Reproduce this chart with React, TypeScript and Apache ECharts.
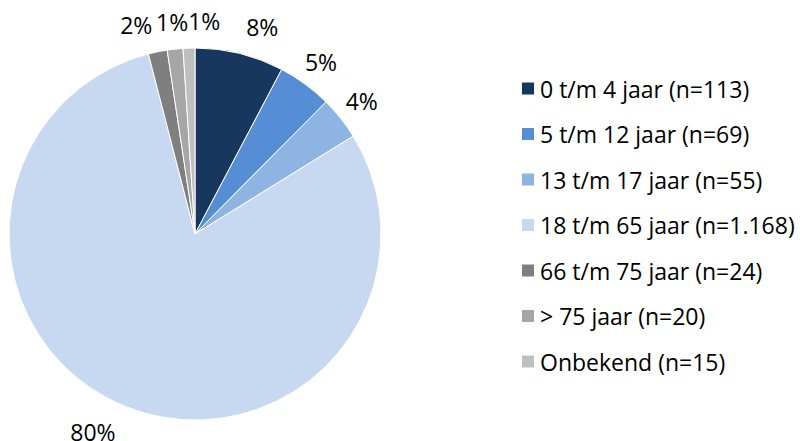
import React, { useEffect, useRef } from "react";
import * as echarts from "echarts";

const categories = [
  "0 t/m 4 jaar (n=113)",
  "5 t/m 12 jaar (n=69)",
  "13 t/m 17 jaar (n=55)",
  "18 t/m 65 jaar (n=1.168)",
  "66 t/m 75 jaar (n=24)",
  "> 75 jaar (n=20)",
  "Onbekend (n=15)",
];
const values = [113, 69, 55, 1168, 24, 20, 15];
const colors = ["#17375E", "#558ED5", "#8EB4E3", "#C6D9F1", "#7F7F7F", "#A6A6A6", "#BFBFBF"];
const labelAligns = ["left", "center", "center", "right", "right", "center", "left"];

export default function App() {
  const ref = useRef<HTMLDivElement>(null);
  useEffect(() => {
    if (!ref.current) return;
    const chart = echarts.init(ref.current, null, { renderer: "svg" });
    const total = values.reduce((a, b) => a + b, 0);
    chart.setOption({
      animation: false,
      textStyle: { fontFamily: "'Open Sans', 'Noto Sans', sans-serif" },
      legend: {
        orient: "vertical",
        left: 520,
        top: 77,
        padding: 0,
        itemWidth: 14,
        itemHeight: 14,
        itemGap: 22.5,
        icon: "rect",
        textStyle: { fontSize: 23, color: "#000", lineHeight: 23 },
        data: categories,
      },
      series: [
        {
          type: "pie",
          center: [195, 234],
          radius: 186,
          startAngle: 90,
          clockwise: true,
          avoidLabelOverlap: false,
          labelLayout: (p: any) => ({ align: labelAligns[p.dataIndex], hideOverlap: false }),
          itemStyle: { borderColor: "#fff", borderWidth: 1 },
          label: {
            show: true,
            position: "outside",
            fontSize: 23,
            color: "#000",
            distanceToLabelLine: 0,
            formatter: (p: any) => Math.round((p.value / total) * 100) + "%",
          },
          labelLine: { show: false, length: 27, length2: 0 },
          emphasis: { disabled: true },
          data: categories.map((name, i) => ({
            name,
            value: values[i],
            itemStyle: { color: colors[i] },
          })),
        },
      ],
    });
    return () => chart.dispose();
  }, []);
  return (
    <div
      ref={ref}
      style={{ position: "fixed", left: 0, top: 0, width: 800, height: 441, background: "#fff" }}
    />
  );
}
